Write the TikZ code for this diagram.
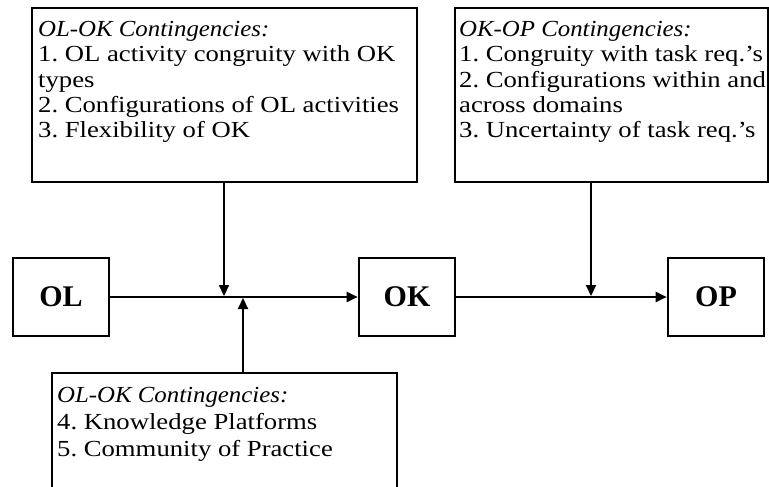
\documentclass[tikz,border=0pt]{standalone}
\usepackage{fontspec}
\setmainfont{Liberation Serif}
\newfontfamily\widefont{Liberation Serif}[FakeStretch=1.16]
\newfontfamily\titfont{Liberation Serif}[FakeStretch=1.08]
\usetikzlibrary{arrows.meta}
\begin{document}
\begin{tikzpicture}[x=1pt,y=-1pt,
  cbox/.style={draw, line width=2.2pt},
  fbox/.style={draw, line width=2.6pt, minimum width=96pt, minimum height=78pt, inner sep=0pt,
    font=\fontsize{30}{34}\selectfont\bfseries},
  ctext/.style={anchor=north west, inner sep=0pt, align=left, font=\fontsize{23}{25.3}\selectfont\widefont\frenchspacing},
  ctextb/.style={ctext, font=\fontsize{23}{26.8}\selectfont\widefont\frenchspacing},
  link/.style={line width=2.2pt, -{Triangle[length=11pt,width=10pt]}},
]
\newcommand{\ctit}[1]{{\titfont\itshape #1}}
\useasboundingbox (0,0) rectangle (769,487);
% factor boxes
\node[fbox] (OL) at (61,297) {OL};
\node[fbox] (OK) at (407,297) {OK};
\node[fbox] (OP) at (716,297) {OP};
% contingency boxes
\draw[cbox] (32,8) rectangle (417,182);
\coordinate (tlS) at (224,182);
\node[ctext] (tlt) at (38,21) {\ctit{OL-OK Contingencies:}\\1. OL activity congruity with OK\\types\\2. Configurations of OL activities\\3. Flexibility of OK};
\draw[cbox] (455,8) rectangle (768,182);
\coordinate (trS) at (591,182);
\node[ctext] (trt) at (459,21) {\ctit{OK-OP Contingencies:}\\1. Congruity with task req.’s\\2. Configurations within and\\across domains\\3. Uncertainty of task req.’s};
\draw[cbox] (52,373) rectangle (397,500);
\coordinate (blN) at (243,373);
\node[ctextb] (blt) at (57,387) {\ctit{OL-OK Contingencies:}\\4. Knowledge Platforms\\5. Community of Practice};
% junctions
\coordinate (j1) at (224,296);
\coordinate (j2) at (243,298);
\coordinate (j3) at (591,296);
% connectors
\draw[link] (OL.east) -- (OK.west);
\draw[link] (OK.east) -- (OP.west);
\draw[link] (tlS) -- (j1);
\draw[link] (blN) -- (j2);
\draw[link] (trS) -- (j3);
\end{tikzpicture}
\end{document}
